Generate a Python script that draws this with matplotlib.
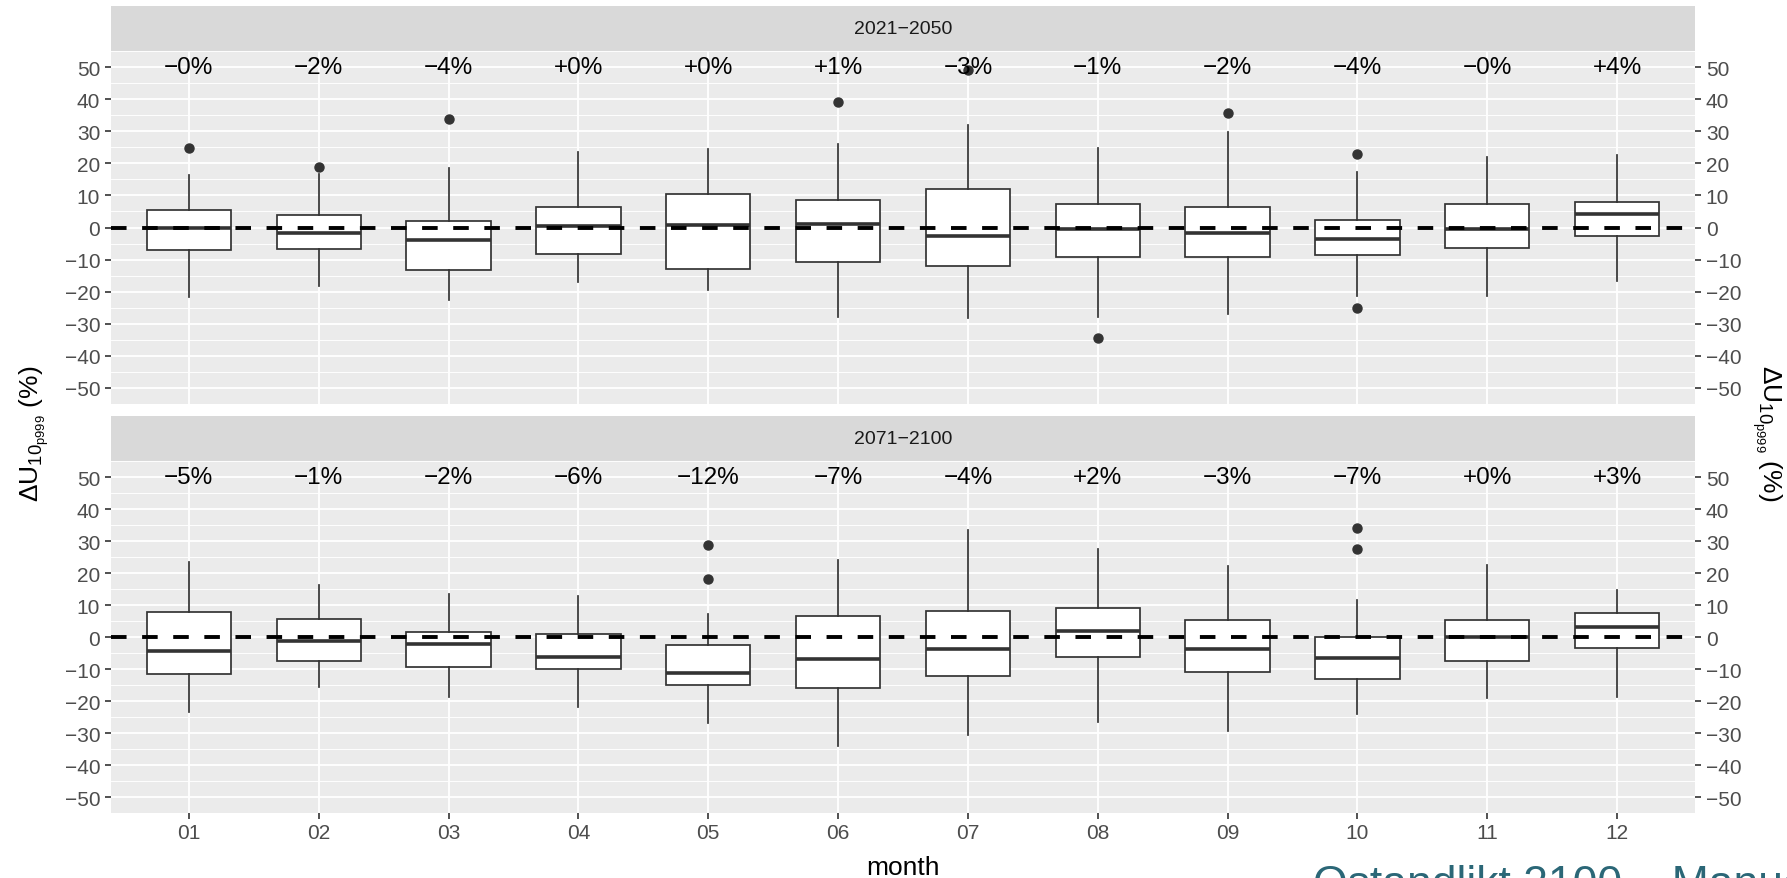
import numpy as np
import matplotlib.pyplot as plt
from matplotlib.ticker import MultipleLocator

plt.rcParams['font.family'] = ['Liberation Sans', 'DejaVu Sans']
plt.rcParams['mathtext.fontset'] = 'custom'
plt.rcParams['mathtext.rm'] = 'Liberation Sans'
plt.rcParams['mathtext.it'] = 'Liberation Sans:italic'
plt.rcParams['mathtext.bf'] = 'Liberation Sans:bold'

months = ['01', '02', '03', '04', '05', '06', '07', '08', '09', '10', '11', '12']
periods = ['2021\u22122050', '2071\u22122100']

# 2021-2050
whislo_a = [-21.8, -18.2, -22.6, -17.0, -19.6, -27.8, -28.2, -27.8, -26.8, -21.5, -21.5, -16.7]
q1_a = [-7.0, -6.7, -13.3, -8.2, -12.9, -10.7, -11.9, -9.3, -9.3, -8.5, -6.4, -2.7]
med_a = [-0.3, -1.8, -3.9, 0.5, 0.7, 1.2, -2.5, -0.6, -1.8, -3.7, -0.4, 4.1]
q3_a = [5.5, 3.9, 2.0, 6.5, 10.5, 8.6, 12.0, 7.2, 6.5, 2.4, 7.2, 8.0]
whishi_a = [16.3, 16.7, 18.5, 23.4, 24.5, 26.0, 31.9, 24.9, 29.8, 17.4, 21.9, 22.7]
fliers_a = [[24.7], [18.9], [33.7], [], [], [39.0], [49.1], [-34.4], [35.8], [23.0, -25.2], [], []]
labels_a = ['\u22120%', '\u22122%', '\u22124%', '+0%', '+0%', '+1%', '\u22123%', '\u22121%',
            '\u22122%', '\u22124%', '\u22120%', '+4%']

# 2071-2100
whislo_b = [-23.4, -15.6, -18.6, -21.9, -26.8, -34.2, -30.5, -26.5, -29.4, -24.2, -19.0, -18.6]
q1_b = [-11.6, -7.5, -9.4, -10.0, -15.0, -16.0, -12.3, -6.4, -10.8, -13.0, -7.5, -3.5]
med_b = [-4.5, -1.4, -2.3, -6.3, -11.4, -7.0, -3.9, 2.0, -3.7, -6.7, 0.0, 3.2]
q3_b = [7.9, 5.6, 1.6, 0.8, -2.6, 6.7, 8.2, 9.0, 5.2, 0.0, 5.2, 7.5]
whishi_b = [23.4, 16.3, 13.3, 12.9, 7.3, 24.1, 33.4, 27.4, 22.2, 11.7, 22.6, 14.7]
fliers_b = [[], [], [], [], [28.6, 18.2], [], [], [], [], [34.0, 27.4], [], []]
labels_b = ['\u22125%', '\u22121%', '\u22122%', '\u22126%', '\u221212%', '\u22127%', '\u22124%', '+2%',
            '\u22123%', '\u22127%', '+0%', '+3%']

panels = [
    (whislo_a, q1_a, med_a, q3_a, whishi_a, fliers_a, labels_a),
    (whislo_b, q1_b, med_b, q3_b, whishi_b, fliers_b, labels_b),
]

fig = plt.figure(figsize=(17.87, 8.79), dpi=100)
W, H = 1787.0, 879.0
left, right = 111, 1695
panel_px = [(52, 405, 7), (462, 814, 417)]  # panel top, panel bottom, strip top

pos = np.arange(1, 13)
for i, (wlo, q1, med, q3, whi, fl, lab) in enumerate(panels):
    ptop, pbot, stop = panel_px[i]
    ax = fig.add_axes([left / W, 1 - pbot / H, (right - left) / W, (pbot - ptop) / H])
    sax = fig.add_axes([left / W, 1 - ptop / H, (right - left) / W, (ptop - stop) / H])
    sax.set_facecolor('#D9D9D9')
    sax.set_xticks([])
    sax.set_yticks([])
    for s in sax.spines.values():
        s.set_visible(False)
    sax.text(0.5, 0.5, periods[i], ha='center', va='center', fontsize=14, color='#1A1A1A')

    stats = []
    for k in range(12):
        stats.append(dict(whislo=wlo[k], q1=q1[k], med=med[k], q3=q3[k], whishi=whi[k],
                          fliers=fl[k]))
    ax.set_facecolor('#EBEBEB')
    ax.bxp(stats, positions=pos, widths=0.65, patch_artist=True, showcaps=False,
           boxprops=dict(facecolor='white', edgecolor='#333333', linewidth=1.25),
           medianprops=dict(color='#333333', linewidth=2.6),
           whiskerprops=dict(color='#333333', linewidth=1.25),
           flierprops=dict(marker='o', markerfacecolor='#333333', markeredgecolor='#333333',
                           markersize=6.5))
    ax.axhline(0, color='black', linewidth=2.8, dashes=(4, 4), zorder=5)
    for k in range(12):
        ax.text(pos[k], 50, lab[k], ha='center', va='center', fontsize=17.5, color='black', zorder=6)

    ax.set_xlim(0.4, 12.6)
    ax.set_ylim(-55, 55)
    ax.yaxis.set_major_locator(MultipleLocator(10))
    ax.yaxis.set_minor_locator(MultipleLocator(5))
    ax.set_xticks(pos)
    ax.grid(True, which='major', color='white', linewidth=1.3)
    ax.grid(True, which='minor', axis='y', color='white', linewidth=0.65)
    ax.set_axisbelow(True)
    for s in ax.spines.values():
        s.set_visible(False)
    ax.tick_params(axis='y', which='major', left=True, right=True, labelleft=True, labelright=True,
                   length=4.3, width=1.2, color='#333333', labelsize=15, labelcolor='#4D4D4D', pad=3.5)
    ax.tick_params(axis='y', which='minor', left=False, right=False)
    if i == 0:
        ax.tick_params(axis='x', bottom=False, labelbottom=False)
    else:
        ax.set_xticklabels(months)
        ax.tick_params(axis='x', length=4.3, width=1.2, color='#333333', labelsize=15,
                       labelcolor='#4D4D4D', pad=3)

ylab = r'$\Delta\mathrm{U}_{10_{\mathrm{p999}}}$ (%)'
fig.text(0.019, 0.507, ylab, rotation=90, ha='center', va='center', fontsize=19, color='black')
fig.text(0.989, 0.507, ylab, rotation=270, ha='center', va='center', fontsize=19, color='black')
fig.text(903 / W, 0.005, 'month', ha='center', va='baseline', fontsize=19, color='black')

fig.text(1313 / W, 1 - 865 / H, 'Ostandlikt 2100 \u2013 Manuel', ha='left', va='top',
         fontsize=32, color='#2B6777')

fig.savefig('out.png', dpi=100)
